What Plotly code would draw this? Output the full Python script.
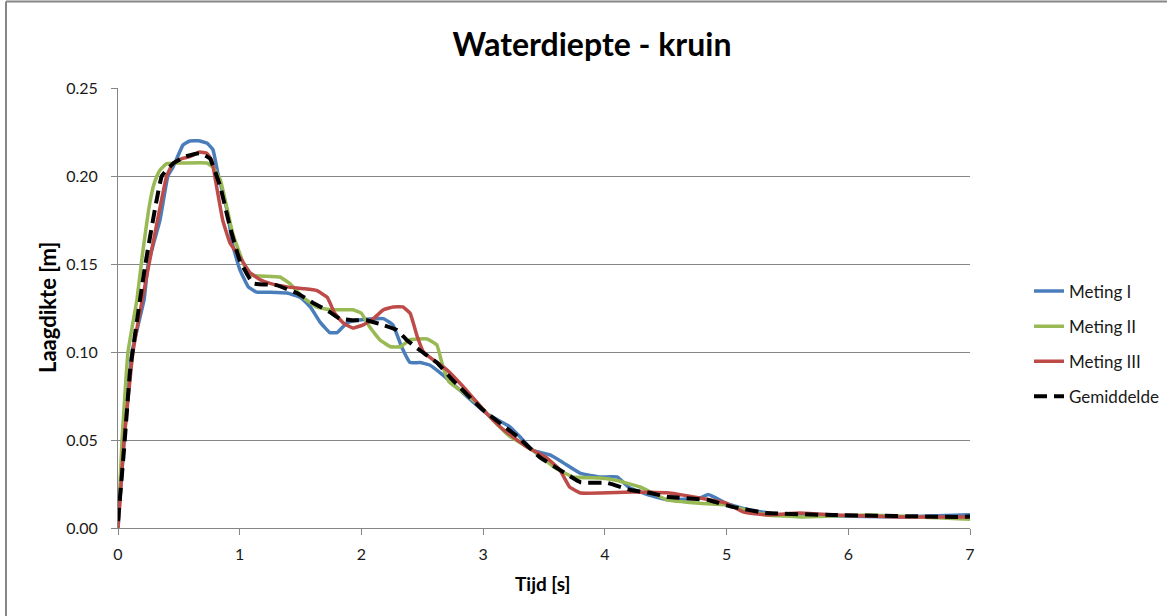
import plotly.graph_objects as go

# ---------------- data ----------------
t_meting1 = [0, 0.05, 0.115, 0.215, 0.247, 0.345, 0.41, 0.452, 0.534, 0.59, 0.66, 0.73, 0.78, 0.82,
             0.895, 0.945, 1.0, 1.07, 1.14, 1.25, 1.39, 1.5, 1.58, 1.66, 1.74, 1.8, 1.88, 1.96, 2.07,
             2.18, 2.26, 2.33, 2.4, 2.48, 2.56, 2.65, 2.75, 2.87, 3.03, 3.22, 3.3, 3.41, 3.55, 3.66,
             3.8, 3.96, 4.1, 4.2, 4.35, 4.51, 4.78, 4.85, 5.0, 5.19, 5.47, 5.88, 6.42, 7.0]
y_meting1 = [0, 0.05, 0.10, 0.13, 0.15, 0.175, 0.20, 0.205, 0.2176, 0.2199, 0.220, 0.2187, 0.215, 0.2017,
             0.1807, 0.160, 0.147, 0.137, 0.134, 0.134, 0.1335, 0.131, 0.1256, 0.117, 0.111, 0.111, 0.1165,
             0.118, 0.1188, 0.119, 0.1153, 0.103, 0.094, 0.094, 0.0926, 0.088, 0.082, 0.0745, 0.065,
             0.0575, 0.052, 0.044, 0.0415, 0.037, 0.031, 0.029, 0.029, 0.023, 0.019, 0.016, 0.017, 0.019,
             0.014, 0.0102, 0.0074, 0.0068, 0.0063, 0.0075]

t_meting2 = [0, 0.033, 0.082, 0.156, 0.2, 0.25, 0.29, 0.32, 0.345, 0.4, 0.53, 0.73, 0.78, 0.84, 0.94,
             1.0, 1.07, 1.17, 1.33, 1.41, 1.52, 1.63, 1.74, 1.93, 2.0, 2.07, 2.15, 2.24, 2.32, 2.4, 2.54,
             2.62, 2.67, 2.72, 2.81, 2.95, 3.08, 3.22, 3.41, 3.58, 3.74, 3.96, 4.1, 4.29, 4.51, 4.78, 5.0,
             5.33, 5.6, 6.15, 7.0]
y_meting2 = [0, 0.05, 0.10, 0.13, 0.155, 0.18, 0.194, 0.20, 0.2034, 0.207, 0.2074, 0.2074, 0.205, 0.198,
             0.168, 0.156, 0.144, 0.1432, 0.1426, 0.139, 0.131, 0.1256, 0.124, 0.124, 0.122, 0.114, 0.107,
             0.103, 0.103, 0.107, 0.1074, 0.104, 0.0915, 0.083, 0.0784, 0.071, 0.0614, 0.052, 0.044,
             0.0347, 0.029, 0.0284, 0.027, 0.0233, 0.016, 0.014, 0.013, 0.0074, 0.0063, 0.0074, 0.005]

t_meting3 = [0, 0.05, 0.123, 0.255, 0.4, 0.45, 0.53, 0.59, 0.67, 0.73, 0.77, 0.81, 0.86, 0.92, 1.0,
             1.085, 1.17, 1.25, 1.39, 1.52, 1.63, 1.72, 1.78, 1.85, 1.93, 2.01, 2.1, 2.18, 2.26, 2.34,
             2.4, 2.46, 2.51, 2.59, 2.7, 2.84, 3.03, 3.17, 3.36, 3.52, 3.63, 3.71, 3.8, 3.96, 4.23,
             4.51, 4.78, 5.0, 5.14, 5.33, 5.6, 5.88, 6.42, 7.0]
y_meting3 = [0, 0.05, 0.10, 0.15, 0.20, 0.207, 0.21, 0.211, 0.2136, 0.213, 0.209, 0.194, 0.175, 0.162,
             0.154, 0.145, 0.141, 0.139, 0.137, 0.136, 0.135, 0.131, 0.122, 0.1165, 0.1136, 0.1153, 0.119,
             0.124, 0.1256, 0.1256, 0.122, 0.1085, 0.100, 0.0955, 0.090, 0.080, 0.065, 0.0557, 0.046,
             0.040, 0.033, 0.0233, 0.0199, 0.0199, 0.0205, 0.020, 0.017, 0.014, 0.009, 0.0074, 0.0085,
             0.0074, 0.0063, 0.0063]

t_gemiddelde = [0, 0.05, 0.1, 0.225, 0.36, 0.45, 0.55, 0.67, 0.755, 0.84, 0.92, 1.0, 1.11, 1.3, 1.47,
                1.6, 1.74, 1.82, 1.93, 2.04, 2.18, 2.29, 2.37, 2.48, 2.62, 2.75, 3.0, 3.28, 3.47, 3.63,
                3.8, 4.02, 4.21, 4.37, 4.51, 4.84, 5.05, 5.33, 5.88, 6.9, 7.0]
y_gemiddelde = [0.004, 0.045, 0.09, 0.15, 0.20, 0.207, 0.211, 0.213, 0.21, 0.194, 0.171, 0.152, 0.139,
                0.138, 0.1335, 0.128, 0.1227, 0.119, 0.118, 0.118, 0.1153, 0.1125, 0.107, 0.101, 0.094,
                0.084, 0.067, 0.052, 0.040, 0.033, 0.026, 0.0256, 0.0216, 0.020, 0.0177, 0.016, 0.012,
                0.0085, 0.0074, 0.0063, 0.0065]

series_names = ["Meting I", "Meting II", "Meting III", "Gemiddelde"]
x_ticks = [0, 1, 2, 3, 4, 5, 6, 7]
y_ticks = [0.00, 0.05, 0.10, 0.15, 0.20, 0.25]

# ---------------- figure ----------------
FONT = "Lato"
W, H = 1167, 616
L, R, T, B = 118, 197, 88, 88

fig = go.Figure()
styles = [
    dict(color="#4A7EBB", width=3.5),
    dict(color="#98B954", width=3.5),
    dict(color="#BE4B48", width=3.5),
    dict(color="#000000", width=4, dash="13px,7px"),
]
datasets = [(t_meting1, y_meting1), (t_meting2, y_meting2), (t_meting3, y_meting3),
            (t_gemiddelde, y_gemiddelde)]
for name, (tx, ty), st in zip(series_names, datasets, styles):
    fig.add_trace(go.Scatter(x=tx, y=ty, mode="lines", name=name,
                             line=dict(shape="spline", smoothing=0.3, **st),
                             legendgroup=name))

pw = W - L - R
ph = H - T - B

def px_x(p):
    return (p - L) / pw

def px_y(p):
    return (H - B - p) / ph

grid = "#868686"
fig.update_layout(
    width=W, height=H, autosize=False,
    margin=dict(l=L, r=R, t=T, b=B, pad=0, autoexpand=False),
    paper_bgcolor="white", plot_bgcolor="white",
    font=dict(family=FONT, size=16, color="#1a1a1a"),
    title=dict(text="<b>Waterdiepte - kruin</b>", x=592 / W, xref="container", xanchor="center",
               y=1 - 45 / H, yref="container", yanchor="middle",
               font=dict(family=FONT, size=32, color="#000000")),
    showlegend=True,
    legend=dict(x=px_x(1029), y=px_y(344), xanchor="left", yanchor="middle",
                font=dict(family=FONT, size=17, color="#1a1a1a"),
                tracegroupgap=10, bgcolor="rgba(0,0,0,0)"),
    xaxis=dict(range=[0, 7], tickvals=x_ticks, ticktext=[str(v) for v in x_ticks],
               showgrid=False, zeroline=False, showline=True, linecolor=grid, linewidth=1,
               ticks="outside", ticklen=6, tickcolor=grid, ticklabelstandoff=6,
               tickfont=dict(family=FONT, size=16, color="#1a1a1a")),
    yaxis=dict(range=[0, 0.25], tickvals=y_ticks, ticktext=[f"{v:.2f}" for v in y_ticks],
               showgrid=True, gridcolor=grid, gridwidth=1, zeroline=False,
               showline=True, linecolor=grid, linewidth=1,
               ticks="outside", ticklen=6, tickcolor=grid, ticklabelstandoff=10,
               tickfont=dict(family=FONT, size=16, color="#1a1a1a")),
)

fig.add_annotation(text="<b>Tijd [s]</b>", xref="paper", yref="paper", x=px_x(543), y=px_y(583),
                   showarrow=False, xanchor="center", yanchor="middle",
                   font=dict(family=FONT, size=19, color="#000000"))
fig.add_annotation(text="<b>Laagdikte [m]</b>", xref="paper", yref="paper", x=px_x(47), y=px_y(308),
                   showarrow=False, xanchor="center", yanchor="middle", textangle=-90,
                   font=dict(family=FONT, size=22, color="#000000"))

# outer chart border (left and top edges visible in the reference)
fig.add_shape(type="line", xref="paper", yref="paper", x0=px_x(6), x1=px_x(6), y0=px_y(620), y1=px_y(1.5),
              line=dict(color=grid, width=2))
fig.add_shape(type="line", xref="paper", yref="paper", x0=px_x(6), x1=px_x(1170), y0=px_y(1.5), y1=px_y(1.5),
              line=dict(color=grid, width=2))

fig.write_html("out.html")
